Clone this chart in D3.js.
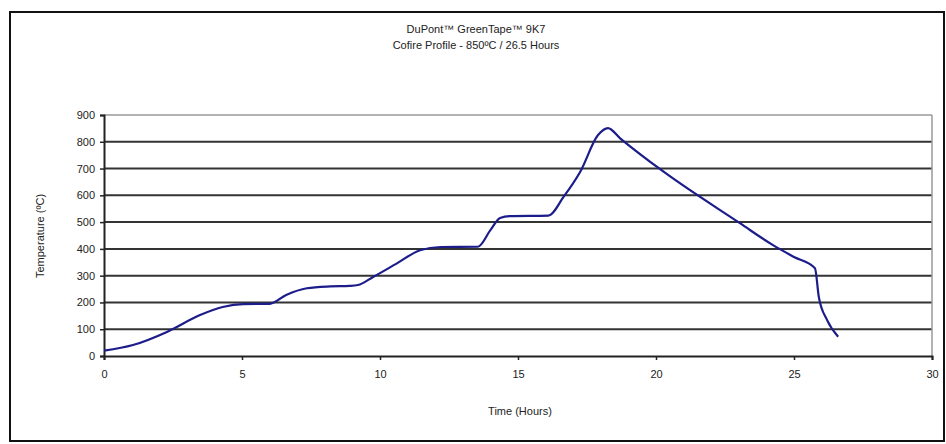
<!DOCTYPE html>
<html><head><meta charset="utf-8">
<script src="https://cdn.jsdelivr.net/npm/d3@7"></script>
<style>body{margin:0;background:#fff}svg{display:block}text{font-family:"Liberation Sans",Arial,sans-serif;fill:#222}</style>
</head><body>
<script>
const titleLines = ["DuPont\u2122 GreenTape\u2122 9K7", "Cofire Profile - 850\u00baC / 26.5 Hours"];
const xLabel = "Time (Hours)";
const yLabel = "Temperature (\u00baC)";
const xTicks = [0, 5, 10, 15, 20, 25, 30];
const yTicks = [0, 100, 200, 300, 400, 500, 600, 700, 800, 900];
const time = [0, 1.05, 2.28, 3.48, 4.3, 5.04, 6.0, 6.6, 7.35, 8.2, 8.9, 9.2, 9.75, 10.6, 11.45, 12.2, 13.55, 14.0, 14.35, 14.7, 16.1, 16.65, 17.25, 17.9, 18.26, 18.7, 20.25, 23.04, 24.24, 25.0, 25.76, 25.9, 26.2, 26.6];
const temperature = [20, 41, 90, 153, 183, 194, 195, 228, 253, 260, 262, 265, 295, 345, 395, 407, 408, 470, 515, 522, 524, 594, 687, 825, 851, 813, 690, 496, 414, 370, 328, 220, 134, 72];

const W = 946, H = 444;
const svg = d3.select("body").append("svg").attr("width", W).attr("height", H);
const x = d3.scaleLinear().domain([0, 30]).range([104, 932]);
const y = d3.scaleLinear().domain([0, 900]).range([356, 115]);

// outer frame
svg.append("rect").attr("x", 10).attr("y", 12).attr("width", 934).attr("height", 429)
  .attr("fill", "none").attr("stroke", "#111").attr("stroke-width", 2);

// title
svg.append("text").attr("x", 476).attr("y", 33).attr("text-anchor", "middle").attr("font-size", 11).text(titleLines[0]);
svg.append("text").attr("x", 476).attr("y", 49).attr("text-anchor", "middle").attr("font-size", 11).text(titleLines[1]);

// gridlines
svg.append("g").selectAll("line").data(yTicks.filter(d => d > 0)).join("line")
  .attr("x1", x(0)).attr("x2", x(30)).attr("y1", d => y(d)).attr("y2", d => y(d))
  .attr("stroke", d => d === 900 ? "#999" : "#333").attr("stroke-width", d => d === 900 ? 1.5 : 2);
// right plot border
svg.append("line").attr("x1", x(30)).attr("x2", x(30)).attr("y1", y(900)).attr("y2", y(0))
  .attr("stroke", "#999").attr("stroke-width", 1.5);

// axes
const yAxis = svg.append("g").attr("transform", `translate(${x(0)},0)`)
  .call(d3.axisLeft(y).tickValues(yTicks).tickSize(4).tickPadding(5));
const xAxis = svg.append("g").attr("transform", `translate(0,${y(0)})`)
  .call(d3.axisBottom(x).tickValues(xTicks).tickSize(4).tickPadding(10));
[yAxis, xAxis].forEach(g => {
  g.selectAll(".domain").attr("stroke", "#222").attr("stroke-width", 2);
  g.selectAll(".tick line").attr("stroke", "#222").attr("stroke-width", 1.5);
  g.selectAll(".tick text").attr("font-size", 11).attr("font-family", "Liberation Sans, Arial, sans-serif").attr("fill", "#222");
});

// axis labels
svg.append("text").attr("x", 520).attr("y", 415).attr("text-anchor", "middle").attr("font-size", 11).text(xLabel);
svg.append("text").attr("transform", `translate(44,236) rotate(-90)`).attr("text-anchor", "middle").attr("font-size", 11).text(yLabel);

// line
const pts = time.map((t, i) => [t, temperature[i]]);
svg.append("path").datum(pts)
  .attr("fill", "none").attr("stroke", "#1c1c8a").attr("stroke-width", 2.2)
  .attr("d", d3.line().x(d => x(d[0])).y(d => y(d[1])).curve(d3.curveMonotoneX));
</script>
</body></html>
